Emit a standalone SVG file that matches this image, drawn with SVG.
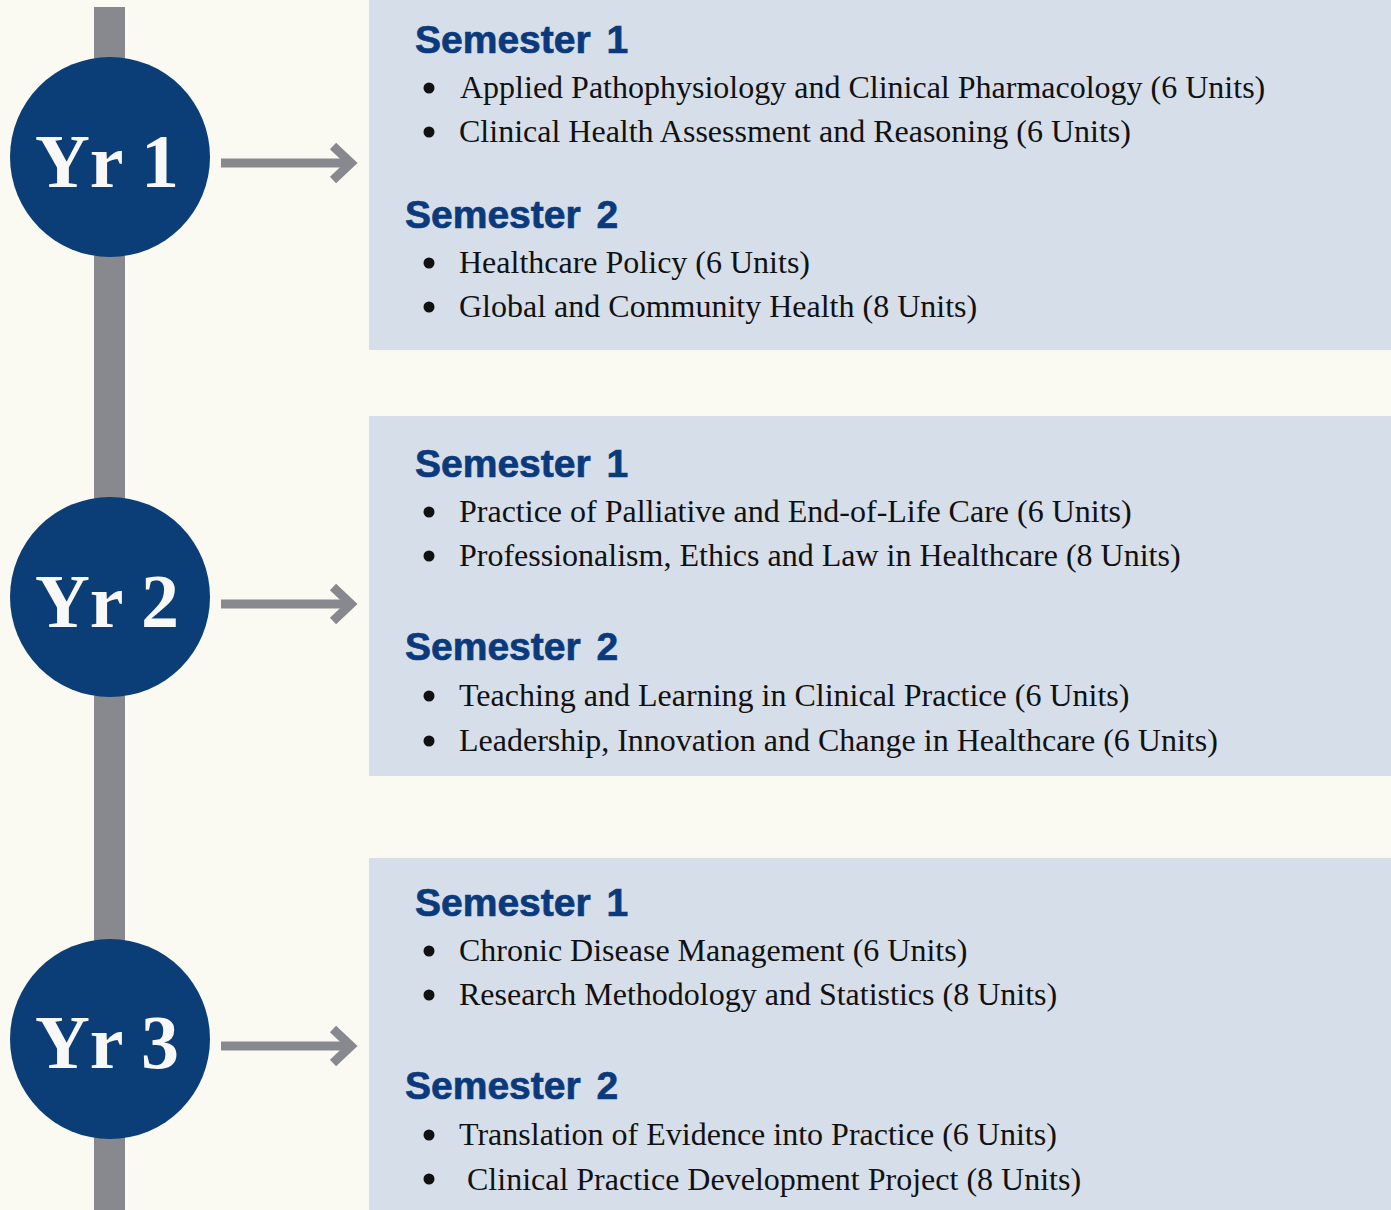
<svg xmlns="http://www.w3.org/2000/svg" width="1391" height="1210" viewBox="0 0 1391 1210">
<defs>
<style>
.bg{fill:#FAFAF2}
.box{fill:#D6DEE9}
.bar{fill:#88898E}
.circ{fill:#0B3D77}
.yr{font-family:"Liberation Serif","Times New Roman",serif;font-weight:bold;font-size:76px;fill:#F8F8F8;text-anchor:middle}
.sem{font-family:"Liberation Sans",Arial,sans-serif;font-weight:bold;font-size:39px;fill:#0B3A7C;stroke:#0B3A7C;stroke-width:0.7;word-spacing:5px}
.item{font-family:"Liberation Serif","Times New Roman",serif;font-size:32px;fill:#111111}
.dot{fill:#111111}
.shaft{stroke:#88898E;stroke-width:9;fill:none}
.head{stroke:#88898E;stroke-width:9;fill:none;stroke-linejoin:miter;stroke-miterlimit:4}
</style>
</defs>
<rect class="bg" x="0" y="0" width="1391" height="1210"/>
<rect id="timeline" class="bar" x="94" y="7" width="31" height="1203"/>

<g id="connectors">
<line class="shaft" x1="221" y1="163" x2="348" y2="163"/>
<polyline class="head" points="333,146 351,163 333,180"/>
<line class="shaft" x1="221" y1="604" x2="348" y2="604"/>
<polyline class="head" points="333,587 351,604 333,621"/>
<line class="shaft" x1="221" y1="1046" x2="348" y2="1046"/>
<polyline class="head" points="333,1029 351,1046 333,1063"/>
</g>

<g id="year1">
<circle class="circ" cx="110" cy="157" r="100"/>
<text class="yr" x="107" y="187">Yr 1</text>
</g>
<g id="year2">
<circle class="circ" cx="110" cy="597" r="100"/>
<text class="yr" x="107" y="627">Yr 2</text>
</g>
<g id="year3">
<circle class="circ" cx="110" cy="1039" r="100"/>
<text class="yr" x="107" y="1068">Yr 3</text>
</g>

<g id="box1">
<rect class="box" x="369" y="0" width="1022" height="350"/>
<text class="sem" x="415" y="53">Semester 1</text>
<circle class="dot" cx="429" cy="88" r="5.5"/>
<text class="item" x="460" y="98">Applied Pathophysiology and Clinical Pharmacology (6 Units)</text>
<circle class="dot" cx="429" cy="132" r="5.5"/>
<text class="item" x="459" y="142">Clinical Health Assessment and Reasoning (6 Units)</text>
<text class="sem" x="405" y="228">Semester 2</text>
<circle class="dot" cx="429" cy="263" r="5.5"/>
<text class="item" x="459" y="273">Healthcare Policy (6 Units)</text>
<circle class="dot" cx="429" cy="307" r="5.5"/>
<text class="item" x="459" y="317">Global and Community Health (8 Units)</text>
</g>

<g id="box2">
<rect class="box" x="369" y="416" width="1022" height="360"/>
<text class="sem" x="415" y="477">Semester 1</text>
<circle class="dot" cx="429" cy="512" r="5.5"/>
<text class="item" x="459" y="522">Practice of Palliative and End-of-Life Care (6 Units)</text>
<circle class="dot" cx="429" cy="556" r="5.5"/>
<text class="item" x="459" y="566">Professionalism, Ethics and Law in Healthcare (8 Units)</text>
<text class="sem" x="405" y="660">Semester 2</text>
<circle class="dot" cx="429" cy="696" r="5.5"/>
<text class="item" x="459" y="706">Teaching and Learning in Clinical Practice (6 Units)</text>
<circle class="dot" cx="429" cy="741" r="5.5"/>
<text class="item" x="459" y="751">Leadership, Innovation and Change in Healthcare (6 Units)</text>
</g>

<g id="box3">
<rect class="box" x="369" y="858" width="1022" height="352"/>
<text class="sem" x="415" y="916">Semester 1</text>
<circle class="dot" cx="429" cy="951" r="5.5"/>
<text class="item" x="459" y="961">Chronic Disease Management (6 Units)</text>
<circle class="dot" cx="429" cy="995" r="5.5"/>
<text class="item" x="459" y="1005">Research Methodology and Statistics (8 Units)</text>
<text class="sem" x="405" y="1099">Semester 2</text>
<circle class="dot" cx="429" cy="1135" r="5.5"/>
<text class="item" x="459" y="1145">Translation of Evidence into Practice (6 Units)</text>
<circle class="dot" cx="429" cy="1179" r="5.5"/>
<text class="item" x="467" y="1190">Clinical Practice Development Project (8 Units)</text>
</g>
</svg>
